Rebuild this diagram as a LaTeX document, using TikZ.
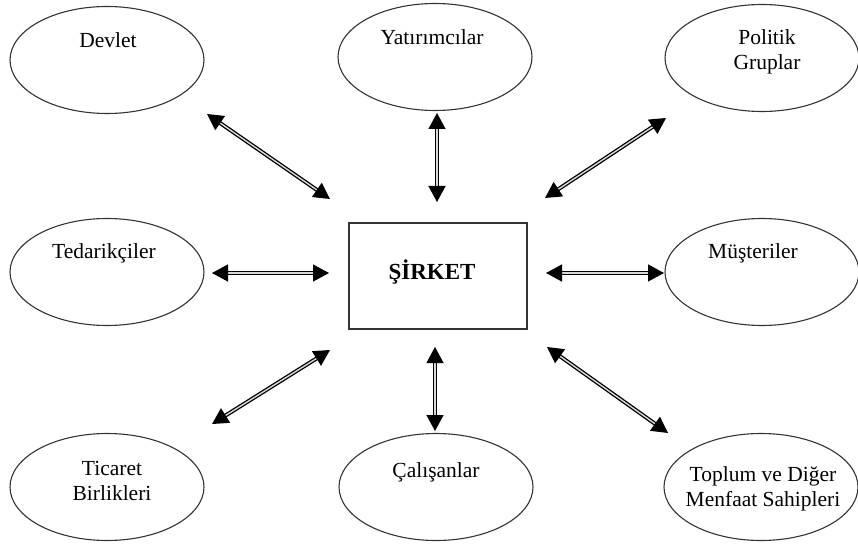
\documentclass[tikz,border=0pt]{standalone}
\usepackage{fontspec}
\setmainfont{Liberation Serif}
\usetikzlibrary{shapes.geometric,arrows.meta}
\tikzset{
  oval/.style={draw=black!80, line width=1.1pt, ellipse, inner sep=0pt, minimum width=194pt, minimum height=107pt},
  lbl/.style={font=\fontsize{21.5}{25}\selectfont, align=center, inner sep=0pt},
  bigbox/.style={draw=black!80, line width=1.2pt, minimum width=178pt, minimum height=106pt, inner sep=0pt},
  dbl/.style={draw=black, line width=1.3pt, double=white!85!black, double distance=1.4pt,
    {Triangle[length=16pt,width=17pt]}-{Triangle[length=16pt,width=17pt]}}
}
\begin{document}
\begin{tikzpicture}[x=1pt,y=-1pt]
\useasboundingbox (0,0) rectangle (858,545);
% ellipses
\node[oval] (devlet) at (107,60) {};
\node[oval] (yat) at (435,57) {};
\node[oval] (pol) at (762,58) {};
\node[oval] (ted) at (107,272) {};
\node[oval] (mus) at (762,272) {};
\node[oval] (tic) at (107,487) {};
\node[oval] (cal) at (436,487) {};
\node[oval] (top) at (761,487) {};
% texts
\node[lbl] (tdevlet) at (108,40) {Devlet};
\node[lbl] (tyat) at (432,37) {Yatırımcılar};
\node[lbl] (tpol) at (767,52) {Politik\\Gruplar};
\node[lbl] (tted) at (104,253) {Tedarikçiler};
\node[lbl] (tmus) at (753,253) {Müşteriler};
\node[lbl] (ttic) at (112,481) {Ticaret\\Birlikleri};
\node[lbl] (tcal) at (436,472) {Çalışanlar};
\node[lbl] (ttop) at (763,489) {Toplum ve Diğer\\Menfaat Sahipleri};
% center box
\node[bigbox] (sirket) at (438,276) {};
\node[lbl, font=\fontsize{23}{26}\selectfont\bfseries] (tsirket) at (432,272) {ŞİRKET};
% arrow end coordinates
\coordinate (a1) at (207,114); \coordinate (b1) at (330,199);
\coordinate (a2) at (437,113); \coordinate (b2) at (437,202);
\coordinate (a3) at (666,118); \coordinate (b3) at (545,198);
\coordinate (a4) at (212,273); \coordinate (b4) at (329,273);
\coordinate (a5) at (546,273); \coordinate (b5) at (664,273);
\coordinate (a6) at (212,424); \coordinate (b6) at (330,350);
\coordinate (a7) at (435,347); \coordinate (b7) at (435,431);
\coordinate (a8) at (547,347); \coordinate (b8) at (668,433);
\draw[dbl] (a1) -- (b1);
\draw[dbl] (a2) -- (b2);
\draw[dbl] (a3) -- (b3);
\draw[dbl] (a4) -- (b4);
\draw[dbl] (a5) -- (b5);
\draw[dbl] (a6) -- (b6);
\draw[dbl] (a7) -- (b7);
\draw[dbl] (a8) -- (b8);
\end{tikzpicture}
\end{document}
